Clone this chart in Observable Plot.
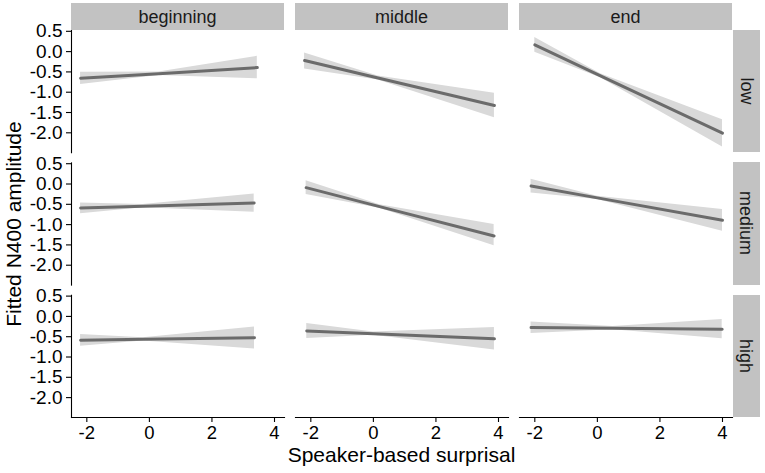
<!DOCTYPE html>
<html><head><meta charset="utf-8">
<script src="https://cdn.jsdelivr.net/npm/d3@7"></script>
<script src="https://cdn.jsdelivr.net/npm/@observablehq/plot@0.6"></script>
<style>
html,body{margin:0;padding:0;background:#fff;}
#chart{position:relative;width:765px;height:473px;font-family:"Liberation Sans",Arial,Helvetica,sans-serif;overflow:hidden;}
#chart svg{position:absolute;left:0;top:0;}
.strip{position:absolute;background:#c2c2c2;color:#1a1a1a;font-size:18px;display:flex;align-items:center;justify-content:center;}
.strip span{white-space:nowrap;line-height:18px;}
.strip.right span{transform:rotate(90deg);}
.title{position:absolute;color:#000;font-size:21px;line-height:21px;white-space:nowrap;}
</style></head><body><div id="chart"></div>
<script>
const columns = ["beginning", "middle", "end"];
const rows = ["low", "medium", "high"];
const panelColumn = ["beginning", "middle", "end", "beginning", "middle", "end", "beginning", "middle", "end"];
const panelRow = ["low", "low", "low", "medium", "medium", "medium", "high", "high", "high"];
const surprisal = [
  [-2.2, 0.3, 3.45],
  [-2.2, 0.15, 3.87],
  [-2.0, 0.1, 4.0],
  [-2.2, -0.2, 3.35],
  [-2.15, 0.2, 3.86],
  [-2.12, 0.0, 4.0],
  [-2.2, -0.2, 3.36],
  [-2.13, 0.0, 3.87],
  [-2.12, 0.5, 3.99]
];
const fitted = [
  [-0.656, -0.545, -0.393],
  [-0.221, -0.65, -1.328],
  [0.165, -0.595, -2.008],
  [-0.59, -0.545, -0.467],
  [-0.09, -0.556, -1.28],
  [-0.05, -0.342, -0.893],
  [-0.585, -0.565, -0.528],
  [-0.357, -0.427, -0.553],
  [-0.273, -0.292, -0.315]
];
const lower = [
  [-0.81, -0.59, -0.67],
  [-0.426, -0.70, -1.63],
  [-0.017, -0.645, -2.35],
  [-0.73, -0.585, -0.696],
  [-0.26, -0.60, -1.52],
  [-0.22, -0.38, -1.163],
  [-0.733, -0.605, -0.80],
  [-0.545, -0.467, -0.83],
  [-0.42, -0.33, -0.553]
];
const upper = [
  [-0.51, -0.50, -0.115],
  [-0.033, -0.60, -1.025],
  [0.35, -0.545, -1.68],
  [-0.467, -0.505, -0.246],
  [0.083, -0.51, -1.0],
  [0.115, -0.30, -0.63],
  [-0.445, -0.525, -0.258],
  [-0.175, -0.387, -0.273],
  [-0.135, -0.25, -0.076]
];
const xTicks = [-2, 0, 2, 4];
const xTickLabels = ["-2", "0", "2", "4"];
const yTicks = [0.5, 0, -0.5, -1, -1.5, -2];
const yTickLabels = ["0.5", "0.0", "-0.5", "-1.0", "-1.5", "-2.0"];
const xTitle = "Speaker-based surprisal";
const yTitle = "Fitted N400 amplitude";

const table = [];
panelColumn.forEach((c, i) => surprisal[i].forEach((x, j) => table.push({
  panel: i, column: c, row: panelRow[i], x, fit: fitted[i][j], lo: lower[i][j], hi: upper[i][j]
})));

const W = 765, H = 473, mL = 71, mR = 33, mT = 30, mB = 56;
const font = '"Liberation Sans", Arial, Helvetica, sans-serif';

const plot = Plot.plot({
  width: W, height: H,
  marginLeft: mL, marginRight: mR, marginTop: mT, marginBottom: mB,
  style: {fontFamily: font, background: "transparent", color: "#000", overflow: "visible"},
  fx: {domain: columns, padding: 0.049, round: false, axis: null},
  fy: {domain: rows, padding: 0.077, round: false, axis: null},
  x: {domain: [-2.49, 4.32]},
  y: {domain: [-2.49, 0.52]},
  marks: [
    Plot.areaY(table, {x: "x", y1: "lo", y2: "hi", z: "panel", fx: "column", fy: "row", fill: "#d9d9d9"}),
    Plot.line(table, {x: "x", y: "fit", z: "panel", fx: "column", fy: "row", stroke: "#6b6b6b", strokeWidth: 3}),
    Plot.frame({anchor: "left", facetAnchor: "left", stroke: "#000", strokeWidth: 1.1}),
    Plot.frame({anchor: "bottom", facetAnchor: "bottom", stroke: "#000", strokeWidth: 1.1}),
    Plot.axisY({ticks: yTicks, tickFormat: d => yTickLabels[yTicks.indexOf(d)], tickSize: 5, tickPadding: 4,
      fontSize: 19, label: null, stroke: "#000", strokeWidth: 1.1, fill: "#000"}),
    Plot.axisX({ticks: xTicks, tickFormat: d => xTickLabels[xTicks.indexOf(d)], tickSize: 5, tickPadding: 3,
      fontSize: 18.5, label: null, stroke: "#000", strokeWidth: 1.1, fill: "#000"})
  ]
});

const chart = document.getElementById("chart");
chart.appendChild(plot);

const fx = plot.scale("fx"), fy = plot.scale("fy");
const bwx = fx.bandwidth, bwy = fy.bandwidth;
columns.forEach(c => {
  const d = document.createElement("div");
  d.className = "strip";
  d.style.left = fx.apply(c) + "px";
  d.style.width = bwx + "px";
  d.style.top = (mT - 26.7) + "px";
  d.style.height = "26.7px";
  d.innerHTML = "<span></span>";
  d.firstChild.textContent = c;
  chart.appendChild(d);
});
rows.forEach(r => {
  const d = document.createElement("div");
  d.className = "strip right";
  d.style.left = (W - mR + 0.5) + "px";
  d.style.width = "27px";
  d.style.top = fy.apply(r) + "px";
  d.style.height = bwy + "px";
  d.innerHTML = "<span></span>";
  d.firstChild.textContent = r;
  chart.appendChild(d);
});
const xt = document.createElement("div");
xt.className = "title";
xt.textContent = xTitle;
xt.style.left = (mL + (W - mR - mL) / 2) + "px";
xt.style.top = "443.5px";
xt.style.transform = "translateX(-50%)";
chart.appendChild(xt);
const yt = document.createElement("div");
yt.className = "title";
yt.textContent = yTitle;
yt.style.left = "12.5px";
yt.style.top = (mT + (H - mB - mT) / 2) + "px";
yt.style.transform = "translate(-50%,-50%) rotate(-90deg)";
chart.appendChild(yt);
</script></body></html>
